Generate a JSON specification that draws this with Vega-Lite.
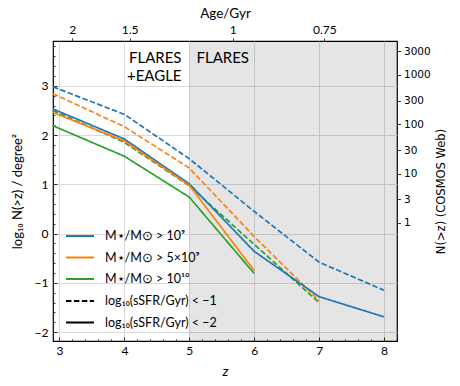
{
  "$schema": "https://vega.github.io/schema/vega-lite/v6.json",
  "width": 344,
  "height": 300,
  "autosize": "none",
  "padding": {"left": 53, "top": 41, "right": 63, "bottom": 45},
  "background": "white",
  "config": {
    "view": {"stroke": "black", "strokeWidth": 1.2},
    "font": "Lato",
    "axis": {"domain": false, "labelColor": "black", "titleColor": "black", "tickColor": "black", "titleFontWeight": "normal", "labelOverlap": false, "labelBound": false, "labelFlush": false}
  },
  "layer": [
    {
      "layer": [
        {
          "data": {"values": [{"z": 5, "z2": 8.2}]},
          "mark": {"type": "rect", "color": "black", "opacity": 0.1},
          "encoding": {
            "x": {"field": "z", "type": "quantitative"},
            "x2": {"field": "z2"}
          }
        },
        {
          "data": {"values": [
            {"z": 2.9, "v": 2.98, "mass": "1e9", "ssfr": "m1"},
            {"z": 4, "v": 2.42, "mass": "1e9", "ssfr": "m1"},
            {"z": 5, "v": 1.52, "mass": "1e9", "ssfr": "m1"},
            {"z": 6, "v": 0.45, "mass": "1e9", "ssfr": "m1"},
            {"z": 7, "v": -0.58, "mass": "1e9", "ssfr": "m1"},
            {"z": 8, "v": -1.15, "mass": "1e9", "ssfr": "m1"},
            {"z": 2.9, "v": 2.84, "mass": "5e9", "ssfr": "m1"},
            {"z": 4, "v": 2.17, "mass": "5e9", "ssfr": "m1"},
            {"z": 5, "v": 1.33, "mass": "5e9", "ssfr": "m1"},
            {"z": 6, "v": -0.06, "mass": "5e9", "ssfr": "m1"},
            {"z": 7, "v": -1.36, "mass": "5e9", "ssfr": "m1"},
            {"z": 2.9, "v": 2.5, "mass": "1e10", "ssfr": "m1"},
            {"z": 4, "v": 1.85, "mass": "1e10", "ssfr": "m1"},
            {"z": 5, "v": 0.97, "mass": "1e10", "ssfr": "m1"},
            {"z": 6, "v": -0.22, "mass": "1e10", "ssfr": "m1"},
            {"z": 7, "v": -1.4, "mass": "1e10", "ssfr": "m1"},
            {"z": 2.9, "v": 2.53, "mass": "1e9", "ssfr": "m2"},
            {"z": 4, "v": 1.92, "mass": "1e9", "ssfr": "m2"},
            {"z": 5, "v": 1.01, "mass": "1e9", "ssfr": "m2"},
            {"z": 6, "v": -0.36, "mass": "1e9", "ssfr": "m2"},
            {"z": 7, "v": -1.28, "mass": "1e9", "ssfr": "m2"},
            {"z": 8, "v": -1.69, "mass": "1e9", "ssfr": "m2"},
            {"z": 2.9, "v": 2.46, "mass": "5e9", "ssfr": "m2"},
            {"z": 4, "v": 1.88, "mass": "5e9", "ssfr": "m2"},
            {"z": 5, "v": 0.98, "mass": "5e9", "ssfr": "m2"},
            {"z": 6, "v": -0.75, "mass": "5e9", "ssfr": "m2"},
            {"z": 2.9, "v": 2.19, "mass": "1e10", "ssfr": "m2"},
            {"z": 4, "v": 1.57, "mass": "1e10", "ssfr": "m2"},
            {"z": 5, "v": 0.74, "mass": "1e10", "ssfr": "m2"},
            {"z": 6, "v": -0.81, "mass": "1e10", "ssfr": "m2"}
          ]},
          "mark": {"type": "line", "strokeWidth": 1.7, "clip": true},
          "encoding": {
            "x": {
              "field": "z", "type": "quantitative",
              "scale": {"domain": [2.9, 8.2], "nice": false, "zero": false},
              "axis": {
                "orient": "bottom",
                "title": "z",
                "titleFontStyle": "italic",
                "titleFontSize": 14,
                "titlePadding": 6,
                "tickCount": 200,
                "values": [3, 3.2, 3.4, 3.6, 3.8, 4, 4.2, 4.4, 4.6, 4.8, 5, 5.2, 5.4, 5.6, 5.8, 6, 6.2, 6.4, 6.6, 6.8, 7, 7.2, 7.4, 7.6, 7.8, 8, 8.2],
                "labelExpr": "abs(datum.value - round(datum.value)) < 0.01 ? format(datum.value, 'd') : ''",
                "labelFontSize": 12,
                "labelPadding": 8,
                "tickSize": {"condition": {"test": "abs(datum.value - round(datum.value)) < 0.01", "value": -4}, "value": -2},
                "tickWidth": 0.8,
                "grid": true,
                "gridColor": "#d6d6d6",
                "gridWidth": 0.9,
                "gridOpacity": {"condition": {"test": "abs(datum.value - round(datum.value)) < 0.01", "value": 1}, "value": 0}
              }
            },
            "y": {
              "field": "v", "type": "quantitative",
              "scale": {"domain": [-2.18, 3.91], "nice": false, "zero": false},
              "axis": {
                "orient": "left",
                "title": "log₁₀ N(>z) / degree²",
                "titleFontSize": 13,
                "titlePadding": 10,
                "tickCount": 200,
                "values": [-2, -1.8, -1.6, -1.4, -1.2, -1, -0.8, -0.6, -0.4, -0.2, 0, 0.2, 0.4, 0.6, 0.8, 1, 1.2, 1.4, 1.6, 1.8, 2, 2.2, 2.4, 2.6, 2.8, 3, 3.2, 3.4, 3.6, 3.8],
                "labelExpr": "abs(datum.value - round(datum.value)) < 0.01 ? replace(format(round(datum.value), 'd'), '-', '−') : ''",
                "labelFontSize": 12,
                "labelPadding": 9,
                "tickSize": {"condition": {"test": "abs(datum.value - round(datum.value)) < 0.01", "value": -4}, "value": -2},
                "tickWidth": 0.8,
                "grid": true,
                "gridColor": "#d6d6d6",
                "gridWidth": 0.9,
                "gridOpacity": {"condition": {"test": "abs(datum.value - round(datum.value)) < 0.01", "value": 1}, "value": 0}
              }
            },
            "color": {
              "field": "mass", "type": "nominal",
              "scale": {"domain": ["1e9", "5e9", "1e10"], "range": ["#1f77b4", "#ff7f0e", "#2ca02c"]},
              "legend": {
                "orient": "none", "legendX": 12, "legendY": 188,
                "title": null,
                "labelExpr": "datum.value == '1e9' ? 'M⋆/M⊙ > 10⁹' : datum.value == '5e9' ? 'M⋆/M⊙ > 5×10⁹' : 'M⋆/M⊙ > 10¹⁰'",
                "symbolType": "stroke", "symbolSize": 784, "symbolStrokeWidth": 1.8,
                "symbolDash": [1, 0],
                "clipHeight": 14, "rowPadding": 7.5,
                "labelFontSize": 12.5, "labelFont": "Lato", "labelColor": "black", "labelOffset": 10,
                "padding": 0
              }
            },
            "strokeDash": {
              "field": "ssfr", "type": "nominal",
              "scale": {"domain": ["m1", "m2"], "range": [[5.5, 2.4], [1, 0]]},
              "legend": {
                "orient": "none", "legendX": 12, "legendY": 253,
                "title": null,
                "labelExpr": "datum.value == 'm1' ? 'log₁₀(sSFR/Gyr) < −1' : 'log₁₀(sSFR/Gyr) < −2'",
                "symbolType": "stroke", "symbolSize": 784, "symbolStrokeWidth": 1.8,
                "symbolStrokeColor": "black",
                "clipHeight": 14, "rowPadding": 7.5,
                "labelFontSize": 12.5, "labelFont": "Lato", "labelColor": "black", "labelOffset": 10,
                "padding": 0
              }
            }
          }
        },
        {
          "data": {"values": [{"z": 4.88, "v": 3.467, "t": "FLARES\n+EAGLE"}]},
          "mark": {"type": "text", "align": "right", "baseline": "alphabetic", "fontSize": 15, "lineBreak": "\n", "lineHeight": 18.3, "color": "black"},
          "encoding": {
            "x": {"field": "z", "type": "quantitative"},
            "y": {"field": "v", "type": "quantitative"},
            "text": {"field": "t"}
          }
        },
        {
          "data": {"values": [{"z": 5.11, "v": 3.467, "t": "FLARES"}]},
          "mark": {"type": "text", "align": "left", "baseline": "alphabetic", "fontSize": 15, "color": "black"},
          "encoding": {
            "x": {"field": "z", "type": "quantitative"},
            "y": {"field": "v", "type": "quantitative"},
            "text": {"field": "t"}
          }
        }
      ]
    },
    {
      "data": {"values": [{"z": 5}]},
      "mark": {"type": "point", "opacity": 0},
      "encoding": {
        "x": {
          "field": "z", "type": "quantitative",
          "scale": {"domain": [2.9, 8.2], "nice": false, "zero": false},
          "axis": {
            "orient": "top",
            "title": "Age/Gyr",
            "titleFontSize": 13.5,
            "titlePadding": 3,
            "tickCount": 200,
            "values": [3.196, 4.08, 5.67, 7.08],
            "labelExpr": "datum.value < 3.5 ? '2' : datum.value < 4.5 ? '1.5' : datum.value < 6 ? '1' : '0.75'",
            "labelFontSize": 12,
            "labelPadding": 2,
            "tickSize": 3,
            "tickWidth": 0.8,
            "grid": false
          }
        }
      }
    },
    {
      "data": {"values": [{"n": 1}]},
      "mark": {"type": "point", "opacity": 0},
      "encoding": {
        "y": {
          "field": "n", "type": "quantitative",
          "scale": {"type": "log", "domain": [0.00398, 4898], "nice": false},
          "axis": {
            "orient": "right",
            "title": "N(>z) (COSMOS Web)",
            "titleFont": "DejaVu Sans",
            "titleFontSize": 11.5,
            "titleAngle": 270,
            "titlePadding": 16,
            "tickCount": 200,
            "values": [1, 3, 10, 30, 100, 300, 1000, 3000],
            "format": "d",
            "labelFont": "DejaVu Sans",
            "labelFontSize": 10.5,
            "labelPadding": 3,
            "tickSize": 3.5,
            "tickWidth": 0.8,
            "grid": false
          }
        }
      }
    }
  ],
  "resolve": {"scale": {"y": "independent"}, "axis": {"x": "independent", "y": "independent"}}
}
